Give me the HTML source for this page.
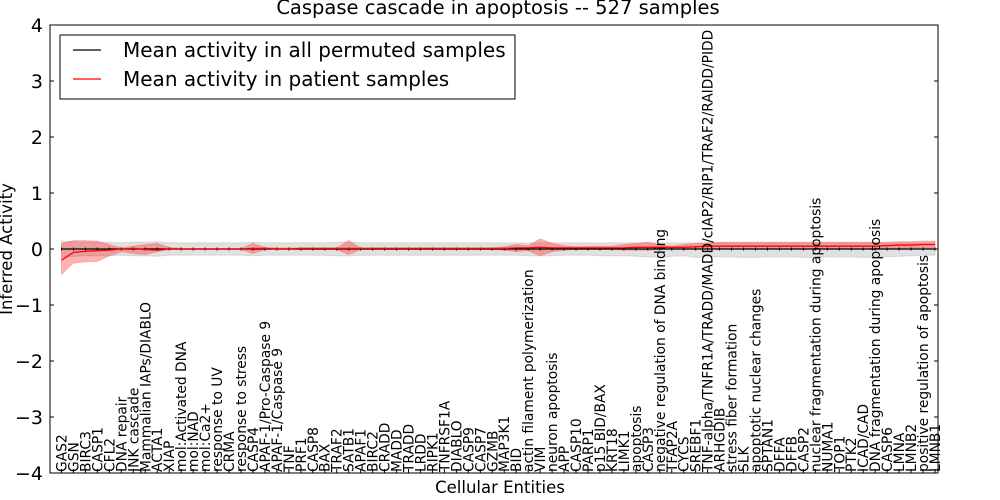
<!DOCTYPE html>
<html><head><meta charset="utf-8"><style>
html,body{margin:0;padding:0;background:#fff;}
svg{display:block;font-family:"DejaVu Sans","Liberation Sans",sans-serif;}
</style></head><body>
<svg id="chart" width="1000" height="500" viewBox="0 0 1000 500">
<rect width="1000" height="500" fill="#fff"/>
<text x="498" y="14" text-anchor="middle" font-size="19.5">Caspase cascade in apoptosis -- 527 samples</text>
<g id="plot"></g>
<text x="500" y="493" text-anchor="middle" font-size="16.5">Cellular Entities</text>
<text transform="translate(12,249) rotate(-90)" text-anchor="middle" font-size="16.5">Inferred Activity</text>
</svg>
<script>
const categories=["GAS2","GSN","BIRC3","CASP1","CFL2","DNA repair","JNK cascade","Mammalian IAPs/DIABLO","ACTA1","XIAP","mol:Activated DNA","mol:NAD","mol:Ca2+","response to UV","CRMA","response to stress","CASP4","APAF-1/Pro-Caspase 9","APAF-1/Caspase 9","TNF","PRF1","CASP8","BAX","TRAF2","SATB1","APAF1","BIRC2","CRADD","MADD","TRADD","LRDD","RIPK1","TNFRSF1A","DIABLO","CASP9","CASP7","GZMB","MAP3K1","BID","actin filament polymerization","VIM","neuron apoptosis","APP","CASP10","PARP1","p15 BID/BAX","KRT18","LIMK1","apoptosis","CASP3","negative regulation of DNA binding","TFAP2A","CYCS","SREBF1","TNF-alpha/TNFR1A/TRADD/MADD/cIAP2/RIP1/TRAF2/RAIDD/PIDD","ARHGDIB","stress fiber formation","SLK","apoptotic nuclear changes","SPTAN1","DFFA","DFFB","CASP2","nuclear fragmentation during apoptosis","NUMA1","TOP1","PTK2","ICAD/CAD","DNA fragmentation during apoptosis","CASP6","LMNA","LMNB2","positive regulation of apoptosis","LMNB1"];
const patientMean=[-0.2,-0.06,-0.04,-0.03,-0.02,0,0.01,-0.01,-0.02,0,0,0,0,0,0,0,0.01,0.01,0,0,0.01,0.01,0.01,0.01,0.01,0.01,0.01,0.01,0.01,0.01,0.01,0.01,0.01,0.01,0.01,0.01,0.01,0.01,0.02,0.02,0.03,0.02,0.02,0.02,0.02,0.02,0.02,0.02,0.03,0.03,0.03,0.03,0.03,0.04,0.05,0.05,0.05,0.05,0.05,0.05,0.05,0.05,0.05,0.05,0.05,0.05,0.05,0.05,0.05,0.06,0.07,0.07,0.08,0.08];
const patientHi=[0.1,0.15,0.15,0.14,0.08,0.02,0.05,0.08,0.1,0.03,0.01,0.01,0.01,0.01,0.01,0.01,0.1,0.03,0.02,0.02,0.02,0.02,0.02,0.02,0.15,0.02,0.02,0.02,0.02,0.02,0.02,0.02,0.02,0.02,0.02,0.02,0.02,0.04,0.08,0.06,0.18,0.1,0.06,0.04,0.05,0.05,0.05,0.08,0.1,0.12,0.08,0.05,0.08,0.1,0.11,0.12,0.12,0.12,0.12,0.12,0.12,0.12,0.12,0.12,0.12,0.12,0.12,0.12,0.12,0.12,0.13,0.13,0.14,0.14];
const patientLo=[-0.45,-0.25,-0.23,-0.22,-0.12,-0.05,-0.08,-0.1,-0.05,-0.01,-0.01,-0.01,-0.01,-0.01,-0.01,-0.01,-0.08,-0.01,-0.01,-0.01,-0.01,-0.01,-0.01,-0.01,-0.1,-0.01,-0.01,-0.01,-0.01,-0.01,-0.01,-0.01,-0.01,-0.01,-0.01,-0.01,-0.01,-0.02,-0.05,-0.03,-0.12,-0.05,-0.02,-0.01,-0.01,-0.01,-0.01,-0.02,-0.02,-0.02,-0.01,0,-0.01,0,0,0,0,0,0,0,0,0,0,0,0,0,0,0,0,0.01,0.01,0.02,0.02,0.02];
const permMean=new Array(74).fill(0);
const permHi=[0.14,0.13,0.12,0.12,0.12,0.11,0.12,0.12,0.13,0.11,0.11,0.11,0.11,0.11,0.11,0.11,0.12,0.11,0.11,0.11,0.11,0.11,0.11,0.12,0.12,0.11,0.11,0.11,0.11,0.11,0.11,0.11,0.11,0.11,0.11,0.11,0.11,0.11,0.11,0.11,0.11,0.11,0.11,0.11,0.11,0.11,0.11,0.11,0.11,0.11,0.11,0.11,0.11,0.11,0.11,0.11,0.11,0.11,0.11,0.11,0.11,0.11,0.11,0.11,0.11,0.11,0.11,0.11,0.11,0.11,0.11,0.11,0.11,0.11];
const permLo=[-0.14,-0.13,-0.12,-0.12,-0.12,-0.11,-0.12,-0.12,-0.13,-0.11,-0.11,-0.11,-0.11,-0.11,-0.11,-0.11,-0.12,-0.11,-0.11,-0.11,-0.11,-0.11,-0.11,-0.12,-0.12,-0.11,-0.11,-0.11,-0.11,-0.11,-0.11,-0.11,-0.11,-0.11,-0.11,-0.11,-0.11,-0.11,-0.11,-0.12,-0.12,-0.12,-0.11,-0.11,-0.11,-0.12,-0.12,-0.12,-0.13,-0.14,-0.15,-0.13,-0.12,-0.15,-0.14,-0.14,-0.14,-0.15,-0.15,-0.14,-0.14,-0.14,-0.15,-0.15,-0.14,-0.14,-0.14,-0.15,-0.15,-0.14,-0.13,-0.12,-0.11,-0.11];
const yTicks=[-4,-3,-2,-1,0,1,2,3,4];

const NS="http://www.w3.org/2000/svg";
const L=50,R=938,T=25,B=473;
const n=categories.length;
const x=i=>61.5+i*(935-61.5)/(n-1);
const y=v=>T+(4-v)*(B-T)/8;
const plot=document.getElementById('plot');
function mk(tag,attrs,parent){const e=document.createElementNS(NS,tag);for(const k in attrs)e.setAttribute(k,attrs[k]);(parent||plot).appendChild(e);return e;}
function band(hi,lo){let d='M'+hi.map((v,i)=>x(i)+','+y(v)).join('L');for(let i=n-1;i>=0;i--)d+='L'+x(i)+','+y(lo[i]);return d+'Z';}
function line(a){return 'M'+a.map((v,i)=>x(i)+','+y(v)).join('L');}

const gb=mk('path',{d:band(permHi,permLo),fill:'#bdbdbd','fill-opacity':'0.45',stroke:'#bdbdbd','stroke-opacity':'0.5'});


const rb=mk('path',{d:band(patientHi,patientLo),fill:'#ff0000','fill-opacity':'0.3',stroke:'#ff6666','stroke-opacity':'0.4'});


const bl=mk('path',{d:line(permMean),fill:'none',stroke:'#000','stroke-width':1.2});


for(let i=0;i<n;i++){const t=mk('line',{x1:x(i),x2:x(i),y1:y(permMean[i])-1.5,y2:y(permMean[i])+1.5,stroke:'#000','stroke-width':1});

}
const rl=mk('path',{d:line(patientMean),fill:'none',stroke:'#ff0000','stroke-width':1.3});



const frame=mk('rect',{x:L,y:T,width:R-L,height:B-T,fill:'none',stroke:'#000','stroke-width':1});



yTicks.forEach(v=>{
  mk('line',{x1:L,x2:L+4,y1:y(v),y2:y(v),stroke:'#000'});
  mk('line',{x1:R-4,x2:R,y1:y(v),y2:y(v),stroke:'#000'});
  const t=mk('text',{x:L-7,y:y(v)+7,'text-anchor':'end','font-size':19});
  t.textContent=(v<0?'\u2212'+(-v):String(v));
  
  
});
categories.forEach((c,i)=>{
  mk('line',{x1:x(i),x2:x(i),y1:B,y2:B-4,stroke:'#000'});
  const t=mk('text',{transform:`translate(${x(i)+5},${B-1}) rotate(-90)`,'font-size':13.8});
  t.textContent=c;
  
  
});

const lg=mk('g',{});


mk('rect',{x:60,y:35,width:455,height:64,fill:'#fff',stroke:'#000','stroke-width':1},lg);
mk('line',{x1:73,x2:101,y1:50,y2:50,stroke:'#000','stroke-width':1.2},lg);
mk('line',{x1:73,x2:101,y1:79,y2:79,stroke:'#ff0000','stroke-width':1.2},lg);
const l1=mk('text',{x:123,y:57,'font-size':20},lg);l1.textContent='Mean activity in all permuted samples';


const l2=mk('text',{x:123,y:86,'font-size':20},lg);l2.textContent='Mean activity in patient samples';


</script>
</body></html>
